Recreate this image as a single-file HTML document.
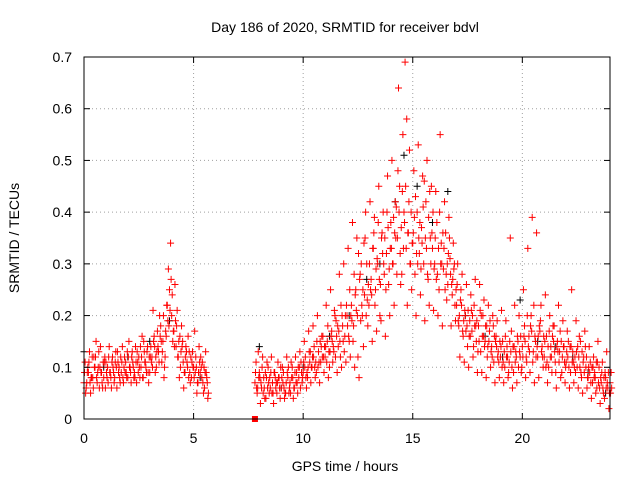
<!DOCTYPE html>
<html><head><meta charset="utf-8"><style>
body{margin:0;background:#fff}
svg{display:block;font-family:"Liberation Sans",sans-serif}
</style></head><body>
<svg id="chart" width="640" height="480" viewBox="0 0 640 480">
<rect width="640" height="480" fill="#fff"/>
<g id="grid"></g>
<g id="marks"></g>
<rect x="84" y="57" width="526" height="362" fill="none" stroke="#000" stroke-width="1"/>
<g id="ticks"></g>
<text x="345" y="32" font-size="14" text-anchor="middle">Day 186 of 2020, SRMTID for receiver bdvl</text>
<text x="345" y="471" font-size="14" text-anchor="middle">GPS time / hours</text>
<text x="0" y="0" font-size="14" text-anchor="middle" transform="translate(19,238) rotate(-90)">SRMTID / TECUs</text>
</svg>
<script>
const xTicks=[0,5,10,15,20];
const yTicks=[0,0.1,0.2,0.3,0.4,0.5,0.6,0.7];
const yTickLabels=["0","0.1","0.2","0.3","0.4","0.5","0.6","0.7"];
const times1=[0.0,0.1,0.2,0.3,0.4,0.5,0.6,0.7,0.8,0.9,1.0,1.1,1.2,1.3,1.4,1.5,1.6,1.7,1.8,1.9,2.0,2.1,2.2,2.3,2.4,2.5,2.6,2.7,2.8,2.9,3.0,3.1,3.2,3.3,3.4,3.5,3.6,3.7,3.8,3.9,4.0,4.1,4.2,4.3,4.4,4.5,4.6,4.7,4.8,4.9,5.0,5.1,5.2,5.3,5.4,5.5,5.6];
const seriesA1=[0.07,0.06,0.09,0.05,0.08,0.10,0.07,0.06,0.09,0.08,0.11,0.07,0.09,0.12,0.08,0.06,0.10,0.09,0.07,0.11,0.08,0.10,0.13,0.09,0.07,0.12,0.10,0.08,0.11,0.14,0.09,0.12,0.16,0.10,0.13,0.18,0.15,0.12,0.22,0.25,0.20,0.17,0.14,0.12,0.10,0.15,0.09,0.11,0.13,0.08,0.10,0.12,0.07,0.09,0.11,0.06,0.08];
const seriesB1=[0.11,0.09,0.13,0.08,0.12,0.15,0.10,0.14,0.06,0.12,0.08,0.14,0.06,0.09,0.13,0.11,0.07,0.14,0.12,0.08,0.15,0.07,0.10,0.14,0.11,0.08,0.16,0.13,0.09,0.07,0.14,0.21,0.09,0.17,0.20,0.11,0.08,0.16,0.29,0.34,0.15,0.26,0.21,0.08,0.18,0.06,0.14,0.16,0.07,0.13,0.17,0.05,0.14,0.10,0.05,0.13,0.04];
const seriesC1=[0.09,0.07,0.11,0.08,0.06,0.12,0.09,0.10,0.07,0.11,0.09,0.12,0.08,0.10,0.11,0.13,0.08,0.11,0.10,0.09,0.12,0.09,0.11,0.08,0.13,0.10,0.12,0.15,0.10,0.09,0.12,0.10,0.14,0.13,0.11,0.15,0.20,0.17,0.19,0.21,0.24,0.14,0.18,0.15,0.13,0.11,0.12,0.10,0.09,0.11,0.08,0.10,0.09,0.12,0.07,0.09,0.07];
const seriesD1=[0.05,0.10,0.07,0.12,0.10,0.08,0.13,0.09,0.11,0.06,0.10,0.09,0.11,0.07,0.10,0.09,0.12,0.08,0.09,0.13,0.10,0.12,0.08,0.11,0.09,0.14,0.08,0.11,0.13,0.12,0.11,0.15,0.12,0.14,0.16,0.13,0.10,0.22,0.18,0.27,0.17,0.19,0.12,0.16,0.14,0.09,0.13,0.08,0.12,0.10,0.09,0.07,0.11,0.08,0.10,0.09,0.05];
const times2=[7.8,7.9,8.0,8.1,8.2,8.3,8.4,8.5,8.6,8.7,8.8,8.9,9.0,9.1,9.2,9.3,9.4,9.5,9.6,9.7,9.8,9.9,10.0,10.1,10.2,10.3,10.4,10.5,10.6,10.7,10.8,10.9,11.0,11.1,11.2,11.3,11.4,11.5,11.6,11.7,11.8,11.9,12.0,12.1,12.2,12.3,12.4,12.5,12.6,12.7,12.8,12.9,13.0,13.1,13.2,13.3,13.4,13.5,13.6,13.7,13.8,13.9,14.0,14.1,14.2,14.3,14.4,14.5,14.6,14.7,14.8,14.9,15.0,15.1,15.2,15.3,15.4,15.5,15.6,15.7,15.8,15.9,16.0,16.1,16.2,16.3,16.4,16.5,16.6,16.7,16.8,16.9,17.0,17.1,17.2,17.3,17.4,17.5,17.6,17.7,17.8,17.9,18.0,18.1,18.2,18.3,18.4,18.5,18.6,18.7,18.8,18.9,19.0,19.1,19.2,19.3,19.4,19.5,19.6,19.7,19.8,19.9,20.0,20.1,20.2,20.3,20.4,20.5,20.6,20.7,20.8,20.9,21.0,21.1,21.2,21.3,21.4,21.5,21.6,21.7,21.8,21.9,22.0,22.1,22.2,22.3,22.4,22.5,22.6,22.7,22.8,22.9,23.0,23.1,23.2,23.3,23.4,23.5,23.6,23.7,23.8,23.9,24.0];
const seriesA2=[0.07,0.05,0.09,0.06,0.08,0.04,0.10,0.06,0.07,0.09,0.05,0.08,
0.06,0.09,0.05,0.08,0.07,0.10,0.06,0.09,0.08,0.11,
0.09,0.12,0.08,0.11,0.10,0.14,0.09,0.13,0.11,0.16,
0.12,0.15,0.10,0.17,0.13,0.19,0.14,0.12,0.18,0.16,
0.20,0.15,0.22,0.18,0.25,0.12,0.28,0.20,0.24,0.30,
0.22,0.27,0.33,0.25,0.30,0.20,0.36,0.28,0.32,0.26,
0.38,0.30,0.42,0.35,0.45,0.28,0.40,0.33,0.36,0.30,
0.34,0.28,0.40,0.32,0.37,0.30,0.42,0.27,0.35,0.33,
0.30,0.38,0.25,0.34,0.29,0.36,0.26,0.31,0.24,0.30,
0.22,0.18,0.25,0.16,0.20,0.14,0.19,0.17,0.22,0.15,
0.18,0.13,0.20,0.15,0.12,0.17,0.14,0.11,0.16,0.13,
0.12,0.15,0.10,0.14,0.11,0.17,0.09,0.13,0.15,0.12,
0.14,0.18,0.11,0.16,0.20,0.13,0.15,0.12,0.17,0.14,
0.12,0.16,0.10,0.14,0.18,0.11,0.15,0.13,0.09,0.14,
0.11,0.15,0.09,0.13,0.12,0.10,0.16,0.08,0.12,0.10,
0.08,0.11,0.07,0.09,0.06,0.10,0.07,0.05,0.08,0.06,0.07];
const seriesB2=[0.11,0.13,0.03,0.12,0.04,0.11,0.05,0.12,0.03,0.06,0.11,0.04,
0.10,0.04,0.12,0.05,0.11,0.04,0.12,0.05,0.13,0.07,
0.15,0.06,0.17,0.07,0.18,0.08,0.20,0.07,0.16,0.09,
0.22,0.08,0.25,0.11,0.20,0.09,0.28,0.10,0.30,0.11,
0.33,0.12,0.38,0.10,0.35,0.08,0.30,0.14,0.40,0.18,
0.42,0.15,0.39,0.17,0.45,0.19,0.40,0.16,0.47,0.20,
0.50,0.22,0.41,0.64,0.26,0.55,0.69,0.22,0.52,0.25,
0.48,0.20,0.53,0.24,0.47,0.19,0.50,0.22,0.45,0.21,
0.44,0.20,0.55,0.18,0.42,0.23,0.39,0.18,0.34,0.19,
0.30,0.12,0.28,0.11,0.26,0.10,0.24,0.12,0.27,0.09,
0.26,0.09,0.23,0.08,0.22,0.10,0.20,0.07,0.19,0.08,
0.21,0.07,0.19,0.08,0.35,0.06,0.22,0.07,0.20,0.09,
0.25,0.08,0.33,0.09,0.39,0.07,0.36,0.08,0.22,0.10,
0.24,0.07,0.20,0.09,0.18,0.06,0.22,0.08,0.19,0.07,
0.17,0.06,0.25,0.07,0.19,0.06,0.15,0.05,0.17,0.06,
0.14,0.04,0.12,0.05,0.15,0.03,0.11,0.04,0.13,0.02,0.09];
const seriesC2=[0.09,0.06,0.08,0.10,0.06,0.08,0.07,0.09,0.05,0.08,0.07,0.06,
0.08,0.06,0.07,0.10,0.05,0.08,0.09,0.07,0.10,0.09,
0.11,0.08,0.10,0.13,0.12,0.10,0.15,0.11,0.14,0.12,
0.14,0.18,0.13,0.15,0.21,0.16,0.17,0.22,0.15,0.20,
0.18,0.25,0.19,0.28,0.21,0.32,0.19,0.25,0.35,0.23,
0.30,0.24,0.36,0.29,0.38,0.26,0.32,0.35,0.40,0.29,
0.33,0.39,0.35,0.48,0.32,0.44,0.38,0.58,0.42,0.40,
0.36,0.43,0.30,0.38,0.34,0.46,0.33,0.39,0.30,0.40,
0.35,0.28,0.40,0.30,0.33,0.28,0.32,0.28,0.27,0.22,
0.26,0.20,0.22,0.19,0.17,0.21,0.16,0.20,0.18,0.19,
0.15,0.20,0.16,0.18,0.14,0.19,0.12,0.16,0.14,0.11,
0.14,0.11,0.16,0.12,0.15,0.10,0.14,0.12,0.10,0.16,
0.12,0.15,0.20,0.13,0.17,0.22,0.12,0.16,0.19,0.12,
0.15,0.11,0.17,0.12,0.15,0.09,0.13,0.17,0.12,0.11,
0.13,0.10,0.14,0.11,0.09,0.14,0.10,0.13,0.09,0.12,
0.10,0.07,0.10,0.08,0.11,0.06,0.09,0.08,0.06,0.09,0.05];
const seriesD2=[0.06,0.08,0.07,0.05,0.09,0.06,0.08,0.05,0.09,0.07,0.08,0.10,
0.07,0.05,0.09,0.06,0.08,0.06,0.07,0.10,0.06,0.08,
0.10,0.09,0.13,0.10,0.12,0.11,0.10,0.15,0.12,0.14,
0.11,0.13,0.16,0.14,0.12,0.18,0.15,0.20,0.13,0.22,
0.16,0.20,0.15,0.24,0.20,0.27,0.22,0.34,0.20,0.26,
0.25,0.33,0.22,0.31,0.27,0.35,0.30,0.25,0.37,0.33,
0.30,0.36,0.28,0.40,0.37,0.33,0.45,0.36,0.30,0.34,
0.39,0.32,0.35,0.29,0.41,0.35,0.28,0.44,0.36,0.29,
0.27,0.33,0.30,0.36,0.25,0.30,0.35,0.26,0.29,0.25,
0.19,0.23,0.17,0.21,0.18,0.16,0.21,0.14,0.18,0.13,
0.21,0.16,0.14,0.18,0.15,0.13,0.18,0.15,0.12,0.15,
0.10,0.13,0.12,0.09,0.13,0.14,0.11,0.16,0.13,0.10,
0.16,0.12,0.14,0.18,0.11,0.16,0.14,0.18,0.13,0.16,
0.10,0.14,0.12,0.16,0.13,0.14,0.11,0.15,0.14,0.10,
0.12,0.14,0.11,0.10,0.13,0.12,0.09,0.11,0.14,0.08,
0.09,0.10,0.08,0.11,0.07,0.08,0.06,0.09,0.07,0.05,0.06];
const blackTimes=[0.0,0.9,2.0,3.0,3.9,4.6,5.3,8.0,9.0,10.0,11.2,12.1,12.9,13.5,14.2,14.6,15.2,15.9,16.6,17.4,18.3,19.1,19.9,20.7,21.5,22.3,23.0,23.8];
const blackValues=[0.13,0.10,0.12,0.15,0.19,0.09,0.08,0.14,0.06,0.10,0.16,0.20,0.27,0.30,0.42,0.51,0.45,0.38,0.44,0.20,0.16,0.12,0.23,0.15,0.14,0.12,0.09,0.05];

const X0=84,X1=610,Y0=419,Y1=57;
const xs=t=>X0+(t/24)*(X1-X0);
const ys=v=>Y0-(v/0.7)*(Y0-Y1);
const NS='http://www.w3.org/2000/svg';
const grid=document.getElementById('grid'),ticks=document.getElementById('ticks'),marks=document.getElementById('marks');
function mk(tag,attrs,parent){const e=document.createElementNS(NS,tag);for(const k in attrs)e.setAttribute(k,attrs[k]);parent.appendChild(e);return e;}
yTicks.forEach((v,i)=>{
  const y=ys(v);
  if(i>0&&i<yTicks.length-1){const g=mk('line',{x1:X0,x2:X1,y1:y,y2:y,stroke:'#a0a0a0','stroke-dasharray':'1,3'},grid);
  
  }
  const t=mk('line',{x1:X0,x2:X0+6,y1:y,y2:y,stroke:'#000'},ticks);
  
  
  const t2=mk('line',{x1:X1-6,x2:X1,y1:y,y2:y,stroke:'#000'},ticks);
  
  
  const l=mk('text',{x:X0-12,y:y+5,'font-size':14,'text-anchor':'end'},ticks);
  l.textContent=yTickLabels[i];
  
  
});
xTicks.forEach((v,i)=>{
  const x=xs(v);
  if(i>0){const g=mk('line',{x1:x,x2:x,y1:Y1,y2:Y0,stroke:'#a0a0a0','stroke-dasharray':'1,3'},grid);
  
  }
  const t=mk('line',{x1:x,x2:x,y1:Y0,y2:Y0-6,stroke:'#000'},ticks);
  
  
  const t2=mk('line',{x1:x,x2:x,y1:Y1,y2:Y1+6,stroke:'#000'},ticks);
  
  
  const l=mk('text',{x:x,y:Y0+24,'font-size':14,'text-anchor':'middle'},ticks);
  l.textContent=String(v);
  
  
});
function plus(t,v,color,name){
  const x=xs(t),y=ys(v);
  const p=mk('path',{d:`M${x-3.5},${y}H${x+3.5}M${x},${y-3.5}V${y+3.5}`,stroke:color,'stroke-width':1,fill:'none'},marks);
  
  
}
blackTimes.forEach((t,i)=>plus(t,blackValues[i],'#000','point-black'));
times1.forEach((t,i)=>{
  plus(t,seriesA1[i],'#f00','point-red');
  plus(t+0.025,seriesC1[i],'#f00','point-red');
  plus(t+0.05,seriesB1[i],'#f00','point-red');
  plus(t+0.075,seriesD1[i],'#f00','point-red');
});
times2.forEach((t,i)=>{
  plus(t,seriesA2[i],'#f00','point-red');
  plus(t+0.025,seriesC2[i],'#f00','point-red');
  plus(t+0.05,seriesB2[i],'#f00','point-red');
  plus(t+0.075,seriesD2[i],'#f00','point-red');
});
const sq=mk('rect',{x:xs(7.8)-3,y:ys(0)-3,width:6,height:6,fill:'#f00'},marks);


</script>
</body></html>
